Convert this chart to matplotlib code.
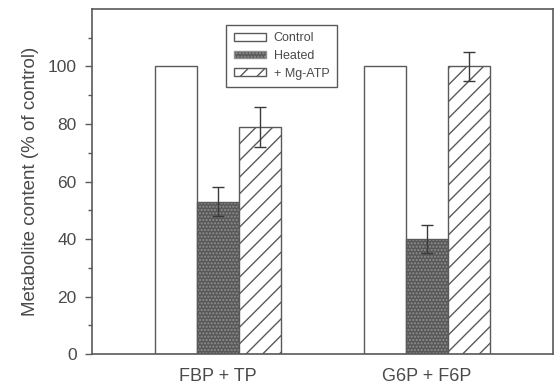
import numpy as np
import matplotlib
matplotlib.use("Agg")
import matplotlib.pyplot as plt
from matplotlib.patches import Patch

# dados (% do controle)
grupos = ["FBP + TP", "G6P + F6P"]
series = ["Control", "Heated", "+ Mg-ATP"]
control = [100, 100]
heated = [53, 40]
heated_err = [5, 5]
mgatp = [79, 100]
mgatp_err = [7, 5]

plt.rcParams["font.family"] = ["Liberation Sans", "DejaVu Sans"]
plt.rcParams["hatch.linewidth"] = 1.0

txt = "#4a4a4a"
linha = "#5a5a5a"

fig = plt.figure(figsize=(5.54, 3.87), dpi=100)
ax = fig.add_axes([0.166, 0.085, 0.832, 0.892])

centros = np.arange(len(grupos)) * 5.0
w = 1.0

# Control
ax.bar(centros - w, control, w, facecolor="white", edgecolor=linha, linewidth=1.0)

# Heated (pontilhado escuro): preenchimento + contorno
ax.bar(centros, heated, w, facecolor="#585858", edgecolor="#909090",
       hatch=".....", linewidth=0)
ax.bar(centros, heated, w, fill=False, edgecolor=linha, linewidth=1.0)
ax.errorbar(centros, heated, yerr=heated_err, fmt="none", ecolor="#3a3a3a",
            elinewidth=1.0, capsize=4.5, capthick=1.0)

# + Mg-ATP (hachurado)
ax.bar(centros + w, mgatp, w, facecolor="white", edgecolor=linha,
       hatch="//", linewidth=1.0)
ax.errorbar(centros + w, mgatp, yerr=mgatp_err, fmt="none", ecolor="#3a3a3a",
            elinewidth=1.0, capsize=4.5, capthick=1.0)

ax.set_xlim(-3, 8)
ax.set_ylim(0, 120)
ax.set_yticks([0, 20, 40, 60, 80, 100])
ax.set_yticks(np.arange(10, 120, 20), minor=True)
ax.set_xticks(centros)
ax.set_xticklabels(grupos, fontsize=13, color=txt)
ax.tick_params(axis="x", length=0, pad=10)
ax.tick_params(axis="y", which="major", direction="out", length=5, width=1,
               color=linha, labelsize=12.5, labelcolor=txt, pad=6)
ax.tick_params(axis="y", which="minor", direction="out", length=3, width=1,
               color=linha)
for s in ax.spines.values():
    s.set_color(linha)
    s.set_linewidth(1.2)

ax.set_ylabel("Metabolite content (% of control)", fontsize=13.5, color=txt,
              labelpad=6)

handles = [
    Patch(facecolor="white", edgecolor=linha, label=series[0]),
    Patch(facecolor="#585858", edgecolor="#909090", hatch=".....", label=series[1]),
    Patch(facecolor="white", edgecolor=linha, hatch="//", label=series[2]),
]
leg = ax.legend(handles=handles, loc="upper left", bbox_to_anchor=(0.291, 0.954),
                borderaxespad=0, fontsize=9, handlelength=2.6, handleheight=0.6,
                handletextpad=0.6, labelspacing=0.45, borderpad=0.6,
                fancybox=False, framealpha=1, edgecolor=linha)
leg.get_frame().set_linewidth(1.0)
for t in leg.get_texts():
    t.set_color(txt)

fig.savefig("out.png", dpi=100)
